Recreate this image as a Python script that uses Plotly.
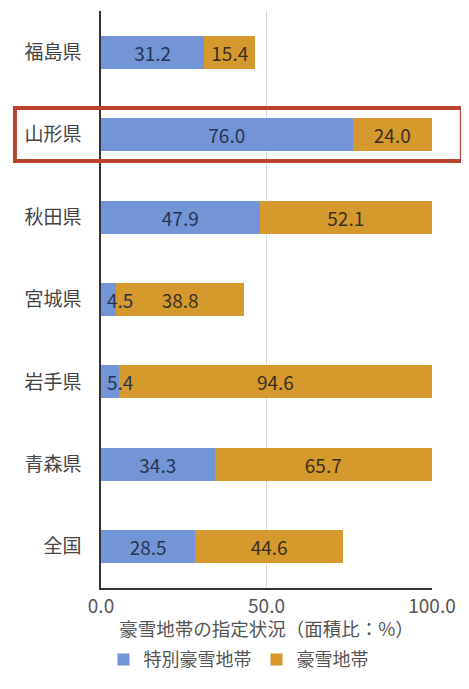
import plotly.graph_objects as go

categories = ["福島県", "山形県", "秋田県", "宮城県", "岩手県", "青森県", "全国"]
special = [31.2, 76.0, 47.9, 4.5, 5.4, 34.3, 28.5]
heavy = [15.4, 24.0, 52.1, 38.8, 94.6, 65.7, 44.6]
tick_vals = [0, 50, 100]
tick_text = ["0.0", "50.0", "100.0"]

FONT = "Noto Sans CJK JP"
BLUE = "#7494d8"
ORANGE = "#d6992e"
NUM_SIZE = 19

small = [v < 10 for v in special]

fig = go.Figure()
fig.add_trace(go.Bar(
    y=categories, x=special, orientation="h", name="特別豪雪地帯",
    marker=dict(color=BLUE, line=dict(width=0)),
    text=["" if s else f"{v:.1f}" for v, s in zip(special, small)],
    textposition="inside", insidetextanchor="middle", constraintext="none",
    textfont=dict(family=FONT, size=NUM_SIZE, color="#2b3550"),
    hoverinfo="skip",
))
fig.add_trace(go.Bar(
    y=categories, x=heavy, orientation="h", name="豪雪地帯",
    marker=dict(color=ORANGE, line=dict(width=0)),
    text=[f"{v:.1f}" for v in heavy],
    textposition="inside", insidetextanchor="middle", constraintext="none",
    textfont=dict(family=FONT, size=NUM_SIZE, color="#3a3020"),
    hoverinfo="skip",
))

for c, v, s in zip(categories, special, small):
    if s:
        fig.add_annotation(x=0, y=c, xref="x", yref="y", text=f"{v:.1f}",
                           showarrow=False, xanchor="left", xshift=4,
                           font=dict(family=FONT, size=NUM_SIZE, color="#2b3550"))

# highlight box around 山形県
fig.add_shape(type="rect", xref="paper", yref="paper",
              x0=-0.26, x1=1.09, y0=0.740, y1=0.832,
              line=dict(color="#b8432e", width=4), fillcolor="rgba(0,0,0,0)")

fig.update_layout(
    barmode="stack", bargap=0.6,
    width=461, height=681,
    margin=dict(l=93, r=37, t=3, b=101),
    paper_bgcolor="white", plot_bgcolor="white",
    font=dict(family=FONT, color="#444"),
    showlegend=True,
    legend=dict(orientation="h", x=0.5, xref="container", xanchor="center",
                y=0.043, yref="container", yanchor="middle",
                font=dict(family=FONT, size=18, color="#555"),
                itemwidth=30, traceorder="normal"),
    xaxis=dict(range=[0, 100], tickvals=tick_vals, ticktext=tick_text,
               showgrid=True, gridcolor="#d9d9d9", gridwidth=1,
               showline=True, linecolor="#333", linewidth=1.5,
               zeroline=False, ticks="",
               tickfont=dict(family=FONT, size=19, color="#555"),
               title=dict(text="豪雪地帯の指定状況（面積比：%）",
                          font=dict(family=FONT, size=18.5, color="#555"),
                          standoff=6)),
    yaxis=dict(categoryorder="array", categoryarray=categories[::-1],
               showline=True, linecolor="#333", linewidth=1.5,
               showgrid=False, ticks="", ticklabelstandoff=14,
               tickfont=dict(family=FONT, size=19, color="#444")),
)

fig.write_html("out.html")
